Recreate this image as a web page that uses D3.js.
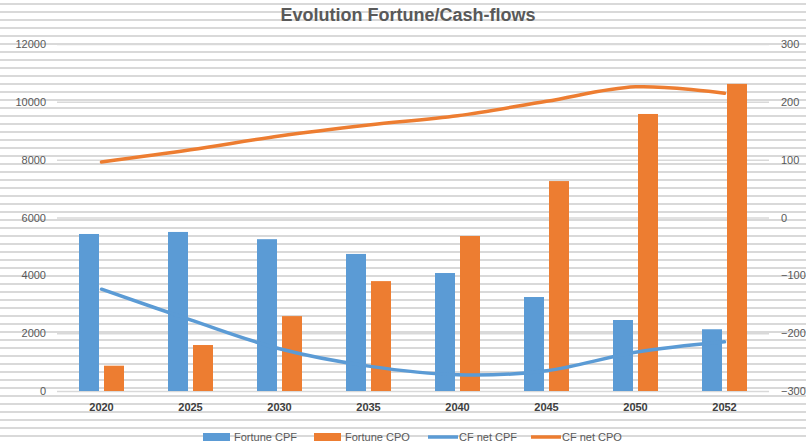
<!DOCTYPE html>
<html>
<head>
<meta charset="utf-8">
<script src="https://cdn.jsdelivr.net/npm/d3@7"></script>
<style>
  body { margin: 0; background: #fff; }
  svg text { font-family: "Liberation Sans", Arial, sans-serif; }
</style>
</head>
<body>
<div id="chart"></div>
<script>
// chart values
var years = ["2020", "2025", "2030", "2035", "2040", "2045", "2050", "2052"];
var fortuneCPF = [5430, 5500, 5250, 4740, 4080, 3250, 2455, 2135];
var fortuneCPO = [875, 1590, 2590, 3800, 5360, 7260, 9580, 10620];
var cfNetCPF = [-124, -177, -227, -257, -272, -265, -233, -215];
var cfNetCPO = [96, 117, 141, 160, 176, 201, 226, 215];
var leftTicks = [0, 2000, 4000, 6000, 8000, 10000, 12000];
var rightTicks = [-300, -200, -100, 0, 100, 200, 300];

var blue = "#5b9bd5", orange = "#ed7d31", grey = "#d9d9d9";

function main(){

	var width = 806, height = 444;
	var plot = { left: 57, right: 769, top: 44, bottom: 391 };

	var svg = d3.select("#chart").append("svg")
		.attr("width", width)
		.attr("height", height);

	// striped background, as in the source picture
	svg.selectAll(".stripe")
		.data(d3.range(4, height, 8)).enter()
		.append("rect")
		.attr("class", "stripe")
		.attr("x", 0)
		.attr("width", width)
		.attr("y", d => d - 1)
		.attr("height", 2)
		.attr("fill", grey);

	// scales
	var x = d3.scaleBand().domain(years).range([plot.left, plot.right]);
	var yLeft = d3.scaleLinear().domain([0, 12000]).range([plot.bottom, plot.top]);
	var yRight = d3.scaleLinear().domain([-300, 300]).range([plot.bottom, plot.top]);

	// gridlines
	svg.append("g")
		.attr("transform", "translate(" + plot.left + ",0)")
		.call(d3.axisLeft(yLeft).tickValues(leftTicks).tickSize(-(plot.right - plot.left)).tickFormat(""))
		.call(g => g.select(".domain").remove())
		.call(g => g.selectAll("line").attr("stroke", grey).attr("stroke-width", 1.5));

	// left axis labels
	svg.append("g")
		.attr("transform", "translate(" + plot.left + ",0)")
		.call(d3.axisLeft(yLeft).tickValues(leftTicks).tickSize(0).tickPadding(11).tickFormat(d3.format("d")))
		.call(g => g.select(".domain").remove())
		.call(g => g.selectAll("text").style("fill", "#595959").style("font-size", "11px"));

	// right axis labels
	svg.append("g")
		.attr("transform", "translate(" + plot.right + ",0)")
		.call(d3.axisRight(yRight).tickValues(rightTicks).tickSize(0).tickPadding(12).tickFormat(d3.format("d")))
		.call(g => g.select(".domain").remove())
		.call(g => g.selectAll("text").style("fill", "#595959").style("font-size", "11px"));

	// category labels
	svg.append("g")
		.attr("transform", "translate(0," + plot.bottom + ")")
		.call(d3.axisBottom(x).tickSize(0).tickPadding(12))
		.call(g => g.select(".domain").remove())
		.call(g => g.selectAll("text").style("fill", "#404040").style("font-size", "11px").style("font-weight", "bold"));

	// bars
	var barW = 20, gap = 5;
	svg.selectAll(".bar_cpf")
		.data(fortuneCPF).enter()
		.append("rect")
		.attr("class", "bar_cpf")
		.attr("x", (d, i) => x(years[i]) + x.bandwidth() / 2 - gap / 2 - barW)
		.attr("width", barW)
		.attr("y", d => yLeft(d))
		.attr("height", d => yLeft(0) - yLeft(d))
		.attr("fill", blue);

	svg.selectAll(".bar_cpo")
		.data(fortuneCPO).enter()
		.append("rect")
		.attr("class", "bar_cpo")
		.attr("x", (d, i) => x(years[i]) + x.bandwidth() / 2 + gap / 2)
		.attr("width", barW)
		.attr("y", d => yLeft(d))
		.attr("height", d => yLeft(0) - yLeft(d))
		.attr("fill", orange);

	// smoothed lines on right axis
	var line = d3.line()
		.x((d, i) => x(years[i]) + x.bandwidth() / 2)
		.y(d => yRight(d))
		.curve(d3.curveCatmullRom.alpha(0.5));

	svg.append("path")
		.datum(cfNetCPF)
		.attr("d", line)
		.attr("fill", "none")
		.attr("stroke", blue)
		.attr("stroke-width", 3.5)
		.attr("stroke-linecap", "round");

	svg.append("path")
		.datum(cfNetCPO)
		.attr("d", line)
		.attr("fill", "none")
		.attr("stroke", orange)
		.attr("stroke-width", 3.5)
		.attr("stroke-linecap", "round");

	// title
	svg.append("text")
		.attr("x", 408)
		.attr("y", 21)
		.attr("text-anchor", "middle")
		.style("fill", "#595959")
		.style("font-size", "18px")
		.style("font-weight", "bold")
		.text("Evolution Fortune/Cash-flows");

	// legend
	var legend = [
		{ name: "Fortune CPF", color: blue, kind: "rect", x: 203 },
		{ name: "Fortune CPO", color: orange, kind: "rect", x: 314 },
		{ name: "CF net CPF", color: blue, kind: "line", x: 428 },
		{ name: "CF net CPO", color: orange, kind: "line", x: 531 }
	];
	var ly = 437;
	var items = svg.selectAll(".legend")
		.data(legend).enter()
		.append("g")
		.attr("class", "legend")
		.attr("transform", d => "translate(" + d.x + "," + ly + ")");

	items.filter(d => d.kind == "rect").append("rect")
		.attr("x", 0).attr("y", -4)
		.attr("width", 27).attr("height", 8)
		.attr("fill", d => d.color);

	items.filter(d => d.kind == "line").append("line")
		.attr("x1", 0).attr("x2", 30)
		.attr("y1", 0).attr("y2", 0)
		.attr("stroke", d => d.color)
		.attr("stroke-width", 3.5);

	items.append("text")
		.attr("x", 31)
		.attr("y", 4)
		.style("fill", "#595959")
		.style("font-size", "11px")
		.text(d => d.name);
}

main();
</script>
</body>
</html>
